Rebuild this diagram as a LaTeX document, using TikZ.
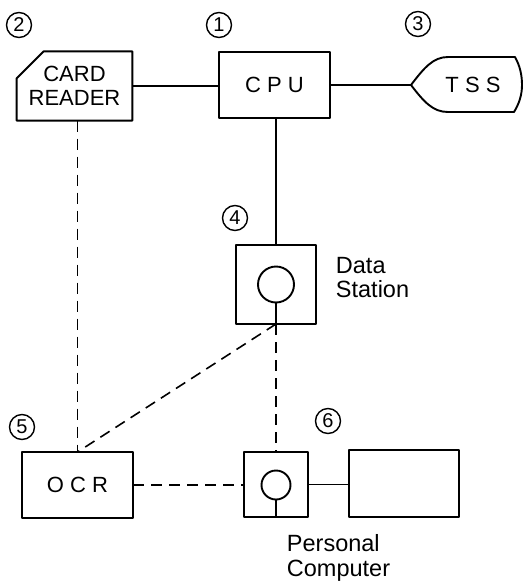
\documentclass[tikz,border=0pt]{standalone}
\usepackage{fontspec}
\setmainfont{Liberation Sans}
\usetikzlibrary{shapes.misc}
\newfontfamily\spaced[LetterSpace=28]{Liberation Sans}
\tikzset{
  box/.style={draw,rectangle,inner sep=0pt,outer sep=0pt,font=\fontsize{22}{24}\selectfont},
  link/.style={line width=1.9pt},
  dashlink/.style={line width=1.6pt,dash pattern=on 11pt off 7pt},
  num/.style={draw,circle,line width=1.4pt,minimum size=25pt,inner sep=0pt,font=\fontsize{20}{20}\selectfont},
  scr/.style={draw,circle,line width=1.9pt,inner sep=0pt,outer sep=0pt},
  lab/.style={anchor=north west,align=left,inner sep=0pt,font=\fontsize{23.5}{24.5}\selectfont}
}
\begin{document}
\begin{tikzpicture}[x=1pt,y=-1pt,line width=1.9pt,line join=round]
\useasboundingbox (0,0) rectangle (523,581);
% numbers
\node[num] (n2) at (19,25) {2};
\node[num] (n1) at (219,25) {1};
\node[num] (n3) at (418,24) {3};
\node[num] (n4) at (235,218) {4};
\node[num] (n5) at (22,427) {5};
\node[num] (n6) at (328,421) {6};
% boxes
\node[box,line width=1.9pt,chamfered rectangle,chamfered rectangle corners=north west,
  chamfered rectangle xsep=12pt,chamfered rectangle ysep=15pt,minimum width=111pt,minimum height=66pt,align=center] (cr) at (74.5,86)
  {CARD\\READER};
\node[box,line width=1.9pt,minimum width=111pt,minimum height=66pt] (cpu) at (274.5,85) {\spaced CPU};
\node[box,line width=1.9pt,minimum width=80pt,minimum height=79pt] (ds) at (276,284.5) {};
\node[scr,minimum size=36pt] (dsc) at (ds.center) {};
\node[box,line width=1.9pt,minimum width=111pt,minimum height=66pt] (ocr) at (77.5,485) {\spaced OCR};
\node[box,line width=1.9pt,minimum width=64pt,minimum height=65pt] (pc) at (276,484.5) {};
\node[scr,minimum size=29pt] (pcc) at (276,485) {};
\node[box,line width=1.9pt,minimum width=110pt,minimum height=67pt] (mon) at (404,483.5) {};
% TSS
\coordinate (tip) at (411,85);
\draw[line width=1.9pt] (tip) .. controls (424,68) and (433,57) .. (448,57) -- (515,57)
  .. controls (520,66) and (522,75) .. (522,85) .. controls (522,95) and (519,104) .. (514,112)
  -- (448,112) .. controls (433,112) and (424,102) .. (tip) -- cycle;
\node[inner sep=0pt,font=\fontsize{22}{24}\selectfont] (tss) at (473,85) {\spaced TSS};
% labels
\node[lab] (dslab) at (335,256) {Data\\Station};
\node[lab] (pclab) at (286,534) {Personal\\Computer};
% solid connectors
\draw[link] (cr.east) -- (cpu.west |- cr.east);
\draw[link] (cpu.east) -- (tip);
\draw[link] (ds.north |- cpu.south) -- (ds.north);
\draw[link] (dsc.south) -- (ds.south);
\draw[link] (pcc.south) -- (pc.south);
\draw[link] (pc.east) -- (mon.west |- pc.east);
% dashed connectors
\draw[dashlink] (cr.south -| ocr.north) -- (ocr.north);
\draw[dashlink] (ds.south) -- (ocr.north);
\draw[dashlink] (ds.south) -- (pc.north);
\draw[dashlink] (ocr.east) -- (pc.west |- ocr.east);
\end{tikzpicture}
\end{document}
